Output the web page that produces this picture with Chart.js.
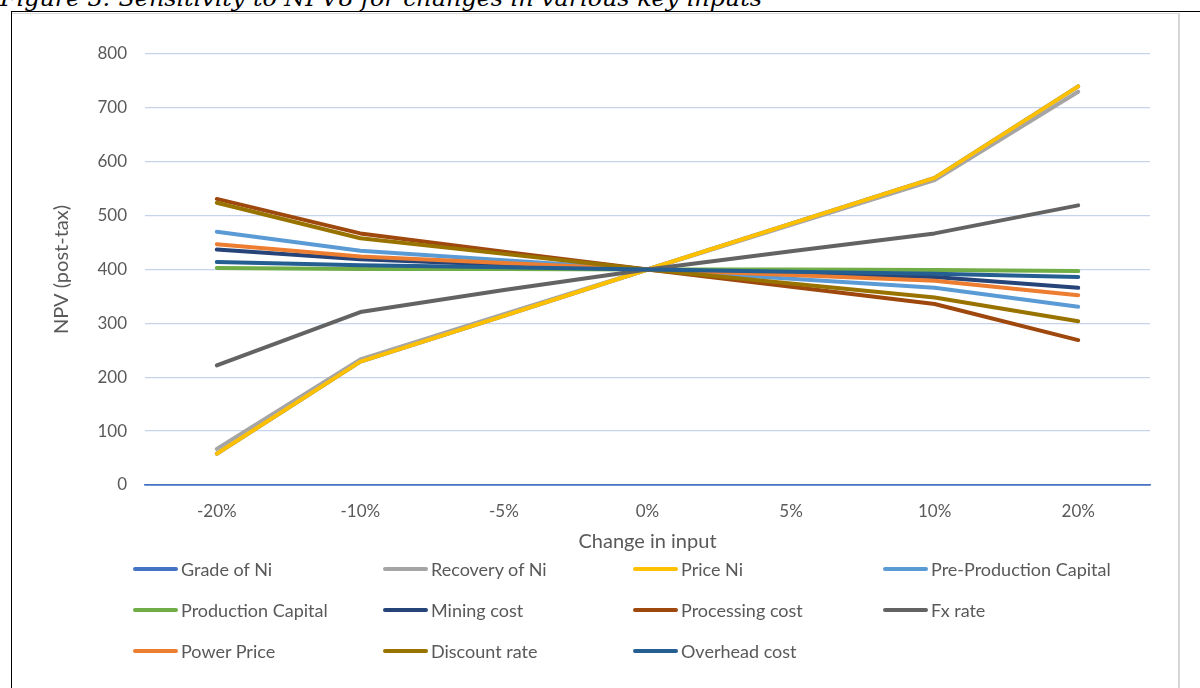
<!DOCTYPE html>
<html>
<head>
<meta charset="utf-8">
<script src="https://cdn.jsdelivr.net/npm/chart.js@4.4.1/dist/chart.umd.min.js"></script>
<style>
  html, body { margin:0; padding:0; background:#fff; width:1200px; height:688px; overflow:hidden; }
  #page { position:relative; width:1200px; height:688px; overflow:hidden; }
  #titleSvg { position:absolute; left:0; top:0; }
  #blackFrame { position:absolute; left:11px; top:11px; width:1300px; height:800px;
    border-top:1.5px solid #000; border-left:1.5px solid #000; }
  #chartBox { position:absolute; left:12px; top:12.5px; width:1166px; height:800px;
    border-top:1.5px solid #d9d9d9; border-right:2px solid #d6d6d6; }
  #cv { position:absolute; left:0; top:0; }
  #legend { position:absolute; left:0; top:0; width:1200px; height:688px; pointer-events:none;
    font-family: Lato, "Liberation Sans", sans-serif; font-size:18px; color:#595959; }
  .li { position:absolute; height:20px; line-height:20px; white-space:nowrap; }
  .li .sw { position:absolute; left:0; top:8px; width:45px; height:4px; border-radius:2px; }
  .li .tx { position:absolute; left:48px; top:0; }
</style>
</head>
<body>
<div id="page">
  <svg id="titleSvg" width="1200" height="20">
    <text x="0" y="6" textLength="762" lengthAdjust="spacingAndGlyphs"
      font-family="DejaVu Serif, Liberation Serif, serif" font-style="italic" font-size="23" fill="#000">Figure 3: Sensitivity to NPV8 for changes in various key inputs</text>
  </svg>
  <div id="blackFrame"></div>
  <div id="chartBox"></div>
  <canvas id="cv" width="1200" height="688"></canvas>
  <div id="legend"></div>
</div>
<script>
// ---- data ----
const categories = ['-20%', '-10%', '-5%', '0%', '5%', '10%', '20%'];
const seriesNames = ['Grade of Ni', 'Recovery of Ni', 'Price Ni', 'Pre-Production Capital',
  'Production Capital', 'Mining cost', 'Processing cost', 'Fx rate',
  'Power Price', 'Discount rate', 'Overhead cost'];
const gradeNi        = [58, 229, 314, 400, 485, 570, 740];
const recoveryNi     = [67, 233, 317, 400, 483, 566, 730];
const priceNi        = [58, 229, 314, 400, 485, 570, 740];
const preProdCapital = [470, 435, 417, 400, 383, 366, 331];
const prodCapital    = [403, 401, 401, 400, 400, 399, 397];
const miningCost     = [437, 419, 409, 400, 393, 386, 366];
const processingCost = [531, 467, 433, 400, 368, 336, 269];
const fxRate         = [222, 321, 362, 400, 434, 467, 519];
const powerPrice     = [447, 424, 412, 400, 390, 379, 352];
const discountRate   = [524, 458, 429, 400, 374, 348, 304];
const overheadCost   = [414, 408, 404, 400, 396, 392, 386];
const yTicks = [0, 100, 200, 300, 400, 500, 600, 700, 800];

const seriesValues = [gradeNi, recoveryNi, priceNi, preProdCapital, prodCapital, miningCost,
  processingCost, fxRate, powerPrice, discountRate, overheadCost];
const colors = ['#4472C4', '#A5A5A5', '#FFC000', '#5B9BD5', '#70AD47', '#264478',
  '#9E480E', '#636363', '#ED7D31', '#997300', '#255E91'];

const n = seriesNames.length;
const datasets = seriesNames.map((name, i) => ({
  label: name,
  data: seriesValues[i],
  borderColor: colors[i],
  backgroundColor: colors[i],
  borderWidth: 4,
  pointRadius: 0,
  pointHoverRadius: 0,
  tension: 0,
  fill: false,
  borderCapStyle: 'round',
  borderJoinStyle: 'round',
  order: n - i
}));

const FONT = { family: 'Lato, "Liberation Sans", sans-serif', size: 17 };
const TFONT = { family: 'Lato, "Liberation Sans", sans-serif', size: 20 };
const TXT = '#595959';

new Chart(document.getElementById('cv'), {
  type: 'line',
  data: { labels: categories, datasets },
  options: {
    responsive: false,
    animation: false,
    devicePixelRatio: 1,
    layout: { padding: { left: 40, top: 54, right: 50, bottom: 132 } },
    plugins: { legend: { display: false }, tooltip: { enabled: false } },
    scales: {
      x: {
        type: 'category',
        offset: true,
        grid: { display: false, drawTicks: false },
        border: { display: true, color: '#4472C4', width: 1.5 },
        ticks: { color: TXT, font: FONT, padding: 16, maxRotation: 0, autoSkip: false },
        title: { display: true, text: 'Change in input', color: TXT, font: TFONT, padding: { top: 4, bottom: 2 } },
        afterFit: s => { s.height = 71; }
      },
      y: {
        min: 0, max: 800,
        afterBuildTicks: s => { s.ticks = yTicks.map(v => ({ value: v })); },
        grid: {
          drawTicks: false,
          color: c => (c.tick && c.tick.value === 0) ? '#4472C4' : '#C5D3EC',
          lineWidth: c => (c.tick && c.tick.value === 0) ? 1.5 : 1.3
        },
        border: { display: false },
        ticks: { color: TXT, font: FONT, padding: 18 },
        title: { display: true, text: 'NPV (post-tax)', color: TXT, font: TFONT, padding: { top: 10, bottom: 4 } },
        afterFit: s => { s.width = 105; }
      }
    }
  }
});

// ---- legend (HTML, built from the series arrays) ----
const legend = document.getElementById('legend');
const colX = [133, 383, 633, 883];
const rowY = [559, 600, 641];
seriesNames.forEach((name, i) => {
  const d = document.createElement('div');
  d.className = 'li';
  d.style.left = colX[i % 4] + 'px';
  d.style.top = rowY[Math.floor(i / 4)] + 'px';
  const sw = document.createElement('span');
  sw.className = 'sw';
  sw.style.background = colors[i];
  const tx = document.createElement('span');
  tx.className = 'tx';
  tx.textContent = name;
  d.appendChild(sw); d.appendChild(tx);
  legend.appendChild(d);
});
</script>
</body>
</html>
